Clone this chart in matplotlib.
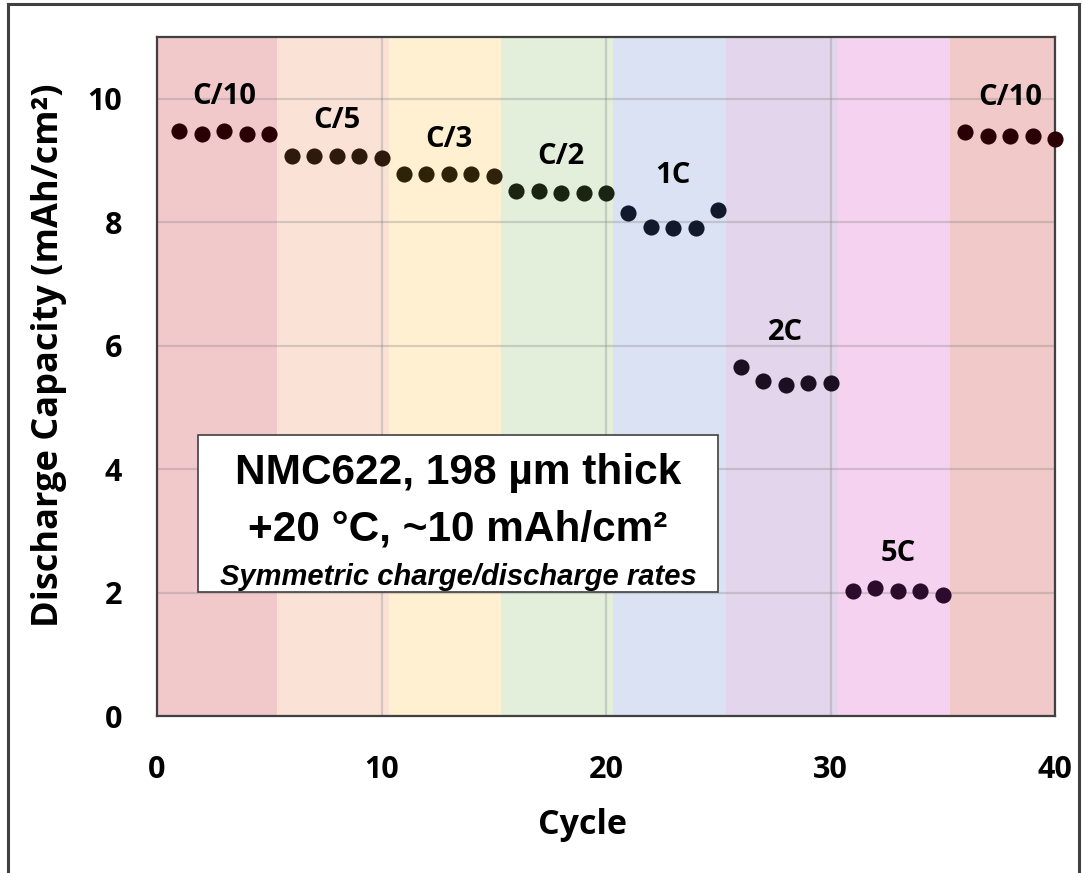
import numpy as np
import matplotlib.pyplot as plt
from matplotlib.patches import Rectangle
from matplotlib.lines import Line2D

# Rate-capability data, 5 cycles per C-rate
rates = ['C/10', 'C/5', 'C/3', 'C/2', '1C', '2C', '5C', 'C/10']
cycles = [[1, 2, 3, 4, 5], [6, 7, 8, 9, 10], [11, 12, 13, 14, 15],
          [16, 17, 18, 19, 20], [21, 22, 23, 24, 25], [26, 27, 28, 29, 30],
          [31, 32, 33, 34, 35], [36, 37, 38, 39, 40]]
capacity = [[9.47, 9.43, 9.47, 9.43, 9.43],
            [9.08, 9.08, 9.08, 9.08, 9.04],
            [8.78, 8.78, 8.78, 8.78, 8.75],
            [8.51, 8.51, 8.47, 8.47, 8.47],
            [8.15, 7.93, 7.90, 7.90, 8.19],
            [5.66, 5.43, 5.36, 5.40, 5.39],
            [2.03, 2.08, 2.03, 2.03, 1.96],
            [9.46, 9.39, 9.40, 9.40, 9.35]]

band_colors = ['#f2c9cb', '#fae3d6', '#fef0d0', '#e3eedb',
               '#dae2f3', '#e3d5eb', '#f5d3f0', '#f1c9c9']
dot_colors = ['#2a0005', '#2e1a0c', '#2e2308', '#1a2411',
              '#111a2c', '#1c0f24', '#2c0b2c', '#2a0005']

LBL_FONT = dict(family='Open Sans', weight='bold')

fig = plt.figure(figsize=(10.84, 8.73), dpi=100)
ax = fig.add_axes([157 / 1084, 1 - 716 / 873, 898 / 1084, 679 / 873])

# coloured background bands per rate
for i, (cyc, col) in enumerate(zip(cycles, band_colors)):
    lo = 0 if i == 0 else cycles[i - 1][-1] + 0.33
    hi = 40 if i == len(cycles) - 1 else cyc[-1] + 0.33
    ax.axvspan(lo, hi, color=col, lw=0, zorder=0)

ax.grid(True, color='#7f7f7f', alpha=0.3, lw=1.6, zorder=1)

for cyc, cap, col, rate in zip(cycles, capacity, dot_colors, rates):
    ax.scatter(cyc, cap, s=135, color=col, zorder=3, clip_on=False, lw=0)
    ax.text(np.mean(cyc), max(cap) + 0.56, rate, ha='center', va='center',
            fontsize=21, zorder=4, **LBL_FONT)

ax.set_xlim(0, 40)
ax.set_ylim(0, 11)
ax.set_xticks([0, 10, 20, 30, 40])
ax.set_yticks([0, 2, 4, 6, 8, 10])
ax.tick_params(length=0, labelsize=22)
ax.tick_params(axis='x', pad=28)
ax.tick_params(axis='y', pad=25)
for lab in ax.get_xticklabels() + ax.get_yticklabels():
    lab.set_fontfamily('Open Sans')
    lab.set_fontweight('bold')

for sp in ax.spines.values():
    sp.set_color('#404040')
    sp.set_linewidth(1.6)

ax.set_xlabel('Cycle', fontsize=24.5, **LBL_FONT)
ax.xaxis.set_label_coords(0.474, -0.136)
ax.set_ylabel('Discharge Capacity (mAh/cm²)', fontsize=26, **LBL_FONT)
ax.yaxis.set_label_coords(-0.100, 0.532)

# annotation box
ax.add_patch(Rectangle((0.0457, 0.1826), 0.579, 0.2312, transform=ax.transAxes,
                       facecolor='white', edgecolor='#404040', lw=1.2, zorder=5))
ax.text(0.3352, 0.3417, 'NMC622, 198 µm thick', transform=ax.transAxes,
        ha='center', va='baseline', fontsize=30.5, family='Liberation Sans',
        weight='bold', zorder=6)
ax.text(0.3352, 0.2592, '+20 °C, ~10 mAh/cm²', transform=ax.transAxes,
        ha='center', va='baseline', fontsize=30.5, family='Liberation Sans',
        weight='bold', zorder=6)
ax.text(0.3352, 0.1930, 'Symmetric charge/discharge rates', transform=ax.transAxes,
        ha='center', va='baseline', fontsize=21, family='Liberation Sans',
        weight='bold', style='italic', zorder=6)

# outer frame of the figure
W, H = 1084, 873
frame = dict(color='#404040', lw=2.2, transform=fig.transFigure)
fig.add_artist(Line2D([8 / W, 8 / W], [0, 1 - 4 / H], **frame))
fig.add_artist(Line2D([8 / W, 1079 / W], [1 - 4 / H, 1 - 4 / H], **frame))
fig.add_artist(Line2D([1079 / W, 1079 / W], [0, 1 - 4 / H], **frame))

fig.savefig('out.png', dpi=100)
